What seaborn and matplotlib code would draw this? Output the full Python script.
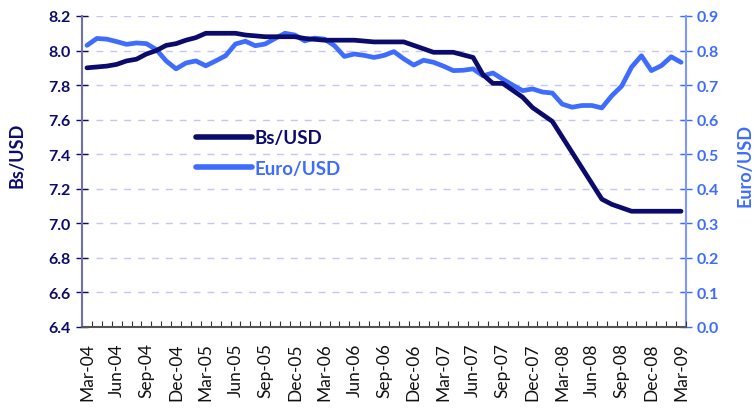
import matplotlib
matplotlib.use("Agg")
import matplotlib.pyplot as plt
import seaborn as sns
import pandas as pd
import numpy as np
from matplotlib.lines import Line2D

months = list(pd.date_range("2004-03-01", periods=61, freq="MS").strftime("%b-%y"))

bs_usd = [7.90, 7.905, 7.91, 7.92, 7.94, 7.95, 7.98, 8.00, 8.03, 8.04,
          8.06, 8.075, 8.10, 8.10, 8.10, 8.10, 8.09, 8.085, 8.08, 8.08,
          8.08, 8.08, 8.07, 8.065, 8.06, 8.06, 8.06, 8.06, 8.055, 8.05,
          8.05, 8.05, 8.05, 8.03, 8.01, 7.99, 7.99, 7.99, 7.975, 7.96,
          7.86, 7.81, 7.81, 7.77, 7.73, 7.67, 7.63, 7.59, 7.50, 7.41,
          7.32, 7.23, 7.14, 7.11, 7.09, 7.07, 7.07, 7.07, 7.07, 7.07, 7.07]

euro_usd = [0.815, 0.835, 0.833, 0.826, 0.818, 0.822, 0.820, 0.803, 0.770, 0.747,
            0.764, 0.770, 0.756, 0.770, 0.785, 0.819, 0.827, 0.814, 0.819, 0.835,
            0.850, 0.845, 0.828, 0.836, 0.833, 0.814, 0.783, 0.790, 0.786, 0.780,
            0.786, 0.797, 0.776, 0.758, 0.772, 0.766, 0.755, 0.742, 0.743, 0.747,
            0.727, 0.735, 0.717, 0.700, 0.684, 0.689, 0.680, 0.677, 0.645, 0.636,
            0.641, 0.641, 0.634, 0.669, 0.697, 0.752, 0.785, 0.742, 0.756, 0.782, 0.766]

tick_labels = ["Mar-04", "Jun-04", "Sep-04", "Dec-04", "Mar-05", "Jun-05", "Sep-05",
               "Dec-05", "Mar-06", "Jun-06", "Sep-06", "Dec-06", "Mar-07", "Jun-07",
               "Sep-07", "Dec-07", "Mar-08", "Jun-08", "Sep-08", "Dec-08", "Mar-09"]

left_ticks = [6.4, 6.6, 6.8, 7.0, 7.2, 7.4, 7.6, 7.8, 8.0, 8.2]
right_ticks = [0.0, 0.1, 0.2, 0.3, 0.4, 0.5, 0.6, 0.7, 0.8, 0.9]

NAVY = "#0b0b6e"
BLUE = "#3d6cff"

sns.set_theme(style="white")
plt.rcParams["font.family"] = ["Lato", "DejaVu Sans"]

df = pd.DataFrame({"x": np.arange(len(months)), "month": months,
                   "bs": bs_usd, "euro": euro_usd})

fig = plt.figure(figsize=(7.56, 4.10), dpi=100)
ax = fig.add_axes([82/756, 82/410, (686-82)/756, (328-17)/410])
ax2 = ax.twinx()

sns.lineplot(data=df, x="x", y="bs", ax=ax, color=NAVY, linewidth=3.4, zorder=3)
sns.lineplot(data=df, x="x", y="euro", ax=ax2, color=BLUE, linewidth=3.4, zorder=3)

ax.set_zorder(ax2.get_zorder() + 1)
ax.patch.set_visible(False)

ax.set_xlim(-0.5, len(months) - 0.5)
ax.set_ylim(6.4, 8.2)
ax2.set_ylim(0.0, 0.9)

# grid
for v in left_ticks[1:]:
    ax2.axhline((v - 6.4) / 1.8 * 0.9, color="#c6c6f2", linestyle=(0, (5, 5)), linewidth=1.0, zorder=0)

ax.set_yticks(left_ticks)
ax.set_yticklabels([f"{v:.1f}" for v in left_ticks], fontsize=11.5, fontweight="bold", color=NAVY)
ax2.set_yticks(right_ticks)
ax2.set_yticklabels([f"{v:.1f}" for v in right_ticks], fontsize=11.5, fontweight="bold", color=BLUE)

major_pos = [months.index(m) for m in tick_labels]
ax.set_xticks(major_pos)
ax.set_xticklabels(tick_labels, rotation=90, fontsize=12.5, color="#111111")
ax.set_xticks(np.arange(-0.5, len(months)), minor=True)
ax.tick_params(axis="x", which="major", length=0, pad=11)
ax.tick_params(axis="x", which="minor", length=4, direction="in", color="#333333", width=0.8, bottom=True)
ax.tick_params(axis="y", which="major", length=8, direction="inout", color=NAVY, width=1.0, left=True, pad=4)
ax2.tick_params(axis="y", which="major", length=8, direction="inout", color=BLUE, width=1.0, right=True, pad=4)

ax.set_xlabel("")
ax.set_ylabel("Bs/USD", fontsize=13, fontweight="bold", color=NAVY)
ax.yaxis.set_label_coords(-0.094, 0.556)
ax2.set_ylabel("Euro/USD", fontsize=13, fontweight="bold", color=BLUE, rotation=90)
ax2.yaxis.set_label_coords(1.083, 0.524)

for a in (ax, ax2):
    a.spines["top"].set_visible(False)
ax.spines["right"].set_visible(False)
ax2.spines["left"].set_visible(False)
ax2.spines["bottom"].set_visible(False)
ax.spines["left"].set_color("#7070b0")
ax.spines["left"].set_linewidth(1.5)
ax.spines["bottom"].set_color("#555555")
ax.spines["bottom"].set_linewidth(1.5)
ax2.spines["right"].set_color("#7a98ff")
ax2.spines["right"].set_linewidth(1.5)

handles = [Line2D([], [], color=NAVY, linewidth=4.0), Line2D([], [], color=BLUE, linewidth=4.0)]
leg = ax.legend(handles, ["Bs/USD", "Euro/USD"], loc="upper left",
                bbox_to_anchor=(0.16, 0.69), frameon=False, handlelength=3.0,
                handletextpad=0.15, labelspacing=0.72,
                prop={"family": ["Lato", "DejaVu Sans"], "weight": "bold", "size": 13.5})
for t, c in zip(leg.get_texts(), [NAVY, BLUE]):
    t.set_color(c)

fig.savefig("out.png", dpi=100)
